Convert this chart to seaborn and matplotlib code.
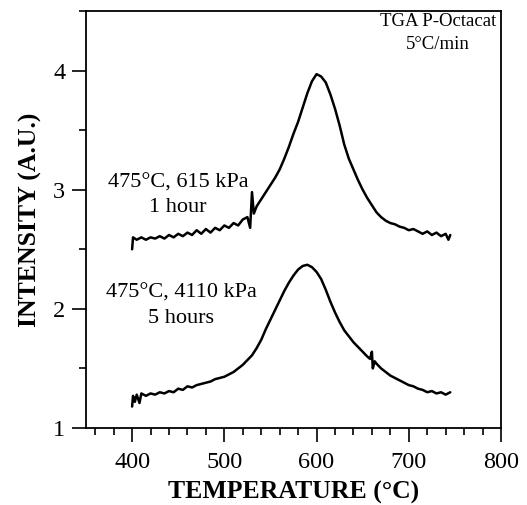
import matplotlib
matplotlib.use("Agg")
import matplotlib.pyplot as plt
from matplotlib.ticker import MultipleLocator
import seaborn as sns
import pandas as pd

# Upper curve: 475°C, 615 kPa, 1 hour
temp_1h = [400, 401, 405, 410, 415, 420, 425, 430, 435, 440, 445, 450, 455, 460,
           465, 470, 475, 480, 485, 490, 495, 500, 505, 510, 515, 520, 525, 528,
           530, 532, 535, 540, 545, 550, 555, 560, 565, 570, 575, 580, 585, 590,
           595, 600, 605, 610, 615, 620, 625, 630, 635, 640, 645, 650, 655, 660,
           665, 670, 675, 680, 685, 690, 695, 700, 705, 710, 715, 720, 725, 730,
           735, 740, 743, 745]
int_1h = [2.50, 2.60, 2.58, 2.60, 2.58, 2.60, 2.59, 2.61, 2.59, 2.62, 2.60, 2.63,
          2.61, 2.64, 2.62, 2.66, 2.63, 2.67, 2.64, 2.68, 2.66, 2.70, 2.68, 2.72,
          2.70, 2.75, 2.77, 2.68, 2.98, 2.80, 2.86, 2.92, 2.98, 3.04, 3.10, 3.17,
          3.26, 3.36, 3.47, 3.57, 3.69, 3.81, 3.91, 3.97, 3.95, 3.90, 3.80, 3.68,
          3.54, 3.38, 3.26, 3.17, 3.08, 3.00, 2.93, 2.87, 2.81, 2.77, 2.74, 2.72,
          2.71, 2.69, 2.68, 2.66, 2.67, 2.65, 2.63, 2.65, 2.62, 2.64, 2.61, 2.63,
          2.58, 2.62]

# Lower curve: 475°C, 4110 kPa, 5 hours
temp_5h = [400, 401, 403, 405, 408, 410, 415, 420, 425, 430, 435, 440, 445, 450,
           455, 460, 465, 470, 475, 480, 485, 490, 495, 500, 505, 510, 515, 520,
           525, 530, 535, 540, 545, 550, 555, 560, 565, 570, 575, 580, 585, 590,
           595, 600, 605, 610, 615, 620, 625, 630, 635, 640, 645, 650, 655, 658,
           660, 661, 663, 665, 670, 675, 680, 685, 690, 695, 700, 705, 710, 715,
           720, 725, 730, 735, 740, 745]
int_5h = [1.18, 1.27, 1.22, 1.28, 1.21, 1.29, 1.27, 1.29, 1.28, 1.30, 1.29, 1.31,
          1.30, 1.33, 1.32, 1.35, 1.34, 1.36, 1.37, 1.38, 1.39, 1.41, 1.42, 1.43,
          1.45, 1.47, 1.50, 1.53, 1.57, 1.61, 1.67, 1.74, 1.83, 1.91, 1.99, 2.07,
          2.15, 2.22, 2.28, 2.33, 2.36, 2.37, 2.35, 2.31, 2.25, 2.16, 2.06, 1.97,
          1.89, 1.82, 1.77, 1.72, 1.68, 1.64, 1.60, 1.58, 1.64, 1.50, 1.56, 1.54,
          1.50, 1.47, 1.44, 1.42, 1.40, 1.38, 1.36, 1.35, 1.33, 1.32, 1.30, 1.31,
          1.29, 1.30, 1.28, 1.30]

x_ticks = [400, 500, 600, 700, 800]
y_ticks = [1, 2, 3, 4]

df = pd.concat([
    pd.DataFrame({"temp": temp_1h, "intensity": int_1h, "run": "1h"}),
    pd.DataFrame({"temp": temp_5h, "intensity": int_5h, "run": "5h"}),
])

sns.set_theme(style="ticks")
plt.rcParams["font.family"] = ["Liberation Serif", "DejaVu Serif"]

fig = plt.figure(figsize=(5.27, 5.05), dpi=100)
ax = fig.add_axes([86 / 527, 1 - 428 / 505, 415 / 527, 417 / 505])

sns.lineplot(data=df, x="temp", y="intensity", units="run", estimator=None,
             color="black", linewidth=1.8, ax=ax, sort=False)

ax.set_xlim(350, 800)
ax.set_ylim(1, 4.5)
ax.set_xticks(x_ticks)
ax.set_yticks(y_ticks)
ax.xaxis.set_minor_locator(MultipleLocator(20))
ax.yaxis.set_minor_locator(MultipleLocator(0.5))
ax.tick_params(axis="both", which="major", direction="out", length=10, width=1.2,
               labelsize=17.5, color="black", labelcolor="black", pad=5)
ax.tick_params(axis="both", which="minor", direction="out", length=5, width=1.2,
               color="black")
ax.tick_params(axis="x", which="major", pad=7)
for s in ax.spines.values():
    s.set_visible(True)
    s.set_color("black")
    s.set_linewidth(1.3)

ax.set_xlabel("TEMPERATURE (°C)", fontsize=18.5, fontweight="bold", color="black",
              labelpad=6)
ax.set_ylabel("INTENSITY (A.U.)", fontsize=18.5, fontweight="bold", color="black",
              labelpad=8)

txt = dict(fontsize=16, color="black", ha="center", va="center")
ax.text(450, 3.06, "475°C, 615 kPa", **txt)
ax.text(450, 2.85, "1 hour", **txt)
ax.text(453, 2.13, "475°C, 4110 kPa", **txt)
ax.text(453, 1.92, "5 hours", **txt)
ax.text(732, 4.41, "TGA P-Octacat", fontsize=13.5, color="black", ha="center", va="center")
ax.text(732, 4.22, "5°C/min", fontsize=13.5, color="black", ha="center", va="center")

fig.savefig("out.png", dpi=100)
